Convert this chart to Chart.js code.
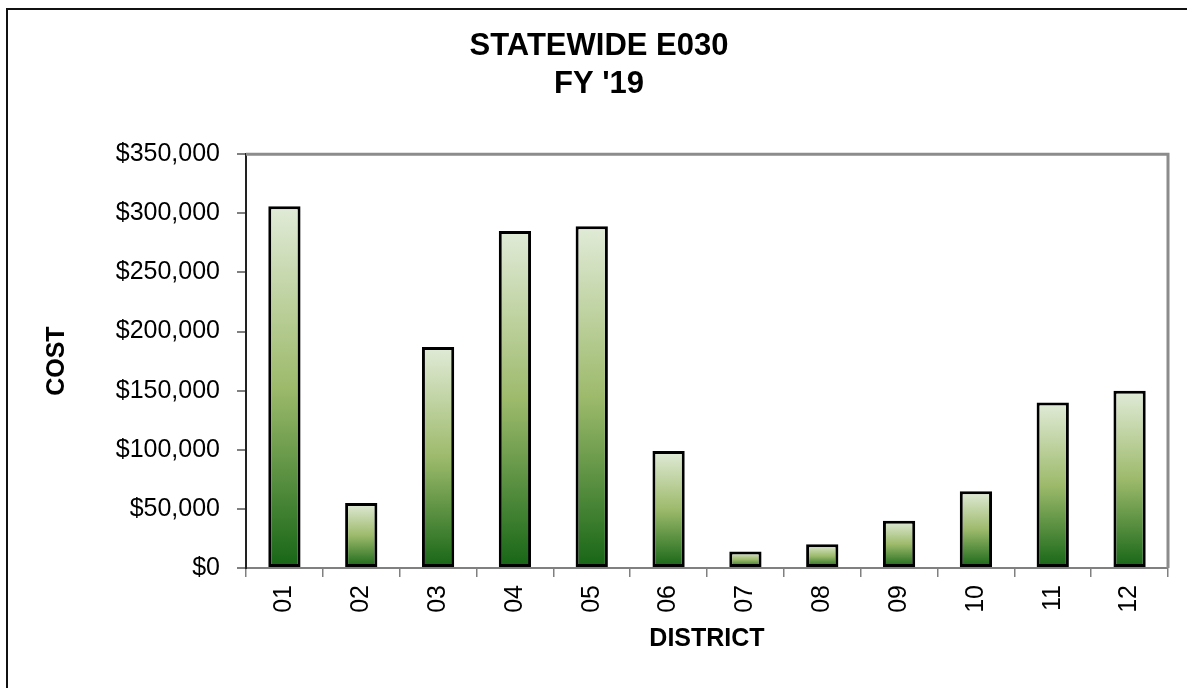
<!DOCTYPE html>
<html>
<head>
<meta charset="utf-8">
<title>Statewide E030 FY '19</title>
<script src="https://cdn.jsdelivr.net/npm/chart.js@4.4.1/dist/chart.umd.min.js"></script>
<style>
    html, body { margin: 0; padding: 0; background: #fff; overflow: hidden; }
    #frame {
        position: absolute;
        left: 6px;
        top: 8px;
        width: 1230px;
        height: 720px;
        border-left: 2px solid #111;
        border-top: 2px solid #111;
    }
    #chartWrap { position: absolute; left: 0; top: 0; width: 1179px; height: 678px; }
</style>
</head>
<body>
<div id="frame">
    <div id="chartWrap"><canvas id="costChart"></canvas></div>
</div>
<script>
// data
const districts = ['01', '02', '03', '04', '05', '06', '07', '08', '09', '10', '11', '12'];
const costs = [306000, 55000, 187000, 285000, 289000, 99000, 14000, 20000, 40000, 65000, 140000, 150000];
const yTicks = [0, 50000, 100000, 150000, 200000, 250000, 300000, 350000];

const fontFamily = '"Liberation Sans", Arial, sans-serif';

// gradient per bar, light at the top and dark green at the base
function barGradient(context) {
    const chart = context.chart;
    const yScale = chart.scales.y;
    if (!yScale || context.raw == null) return '#9dbb6b';
    const top = yScale.getPixelForValue(context.raw);
    const base = yScale.getPixelForValue(0);
    if (!isFinite(top) || !isFinite(base) || top === base) return '#9dbb6b';
    const g = chart.ctx.createLinearGradient(0, top, 0, base);
    g.addColorStop(0, '#e1ebd8');
    g.addColorStop(0.5, '#9dba6b');
    g.addColorStop(1, '#166516');
    return g;
}

// top and right edge of the plot area
const plotFrame = {
    id: 'plotFrame',
    afterDraw(chart) {
        const { ctx, chartArea } = chart;
        ctx.save();
        ctx.strokeStyle = '#8c8c8c';
        ctx.lineWidth = 3;
        ctx.beginPath();
        ctx.moveTo(chartArea.left, chartArea.top);
        ctx.lineTo(chartArea.right, chartArea.top);
        ctx.lineTo(chartArea.right, chartArea.bottom);
        ctx.stroke();
        ctx.restore();
    }
};

const ctx = document.getElementById('costChart').getContext('2d');
new Chart(ctx, {
    type: 'bar',
    data: {
        labels: districts,
        datasets: [{
            label: 'Cost',
            data: costs,
            backgroundColor: barGradient,
            borderColor: '#000',
            borderWidth: 3,
            borderSkipped: false,
            barPercentage: 0.42,
            categoryPercentage: 1
        }]
    },
    options: {
        responsive: true,
        maintainAspectRatio: false,
        animation: false,
        layout: { padding: { left: 22, right: 19, top: 0, bottom: 20 } },
        plugins: {
            legend: { display: false },
            tooltip: { enabled: false },
            title: {
                display: true,
                text: ['STATEWIDE E030', "FY '19"],
                color: '#000',
                font: { family: fontFamily, size: 31, weight: 'bold', lineHeight: 1.23 },
                padding: { top: 17, bottom: 51 }
            }
        },
        scales: {
            x: {
                offset: true,
                grid: {
                    offset: true,
                    drawOnChartArea: false,
                    drawTicks: true,
                    tickLength: 9,
                    color: '#808080',
                    lineWidth: 1.5
                },
                border: { display: true, color: '#808080', width: 2 },
                ticks: {
                    color: '#000',
                    font: { family: fontFamily, size: 25 },
                    maxRotation: 90,
                    minRotation: 90,
                    padding: 8,
                    autoSkip: false
                },
                title: {
                    display: true,
                    text: 'DISTRICT',
                    color: '#000',
                    font: { family: fontFamily, size: 25, weight: 'bold', lineHeight: 1.2 },
                    padding: { top: 4, bottom: 14 }
                },
                afterFit: scale => { scale.height = 100; }
            },
            y: {
                min: 0,
                max: 350000,
                afterBuildTicks: scale => { scale.ticks = yTicks.map(v => ({ value: v })); },
                grid: {
                    drawOnChartArea: false,
                    drawTicks: true,
                    tickLength: 9,
                    color: '#808080',
                    lineWidth: 2
                },
                border: { display: true, color: '#222', width: 2 },
                ticks: {
                    color: '#000',
                    font: { family: fontFamily, size: 25 },
                    padding: 17,
                    callback: value => '$' + value.toLocaleString('en-US')
                },
                title: {
                    display: true,
                    text: 'COST',
                    color: '#000',
                    font: { family: fontFamily, size: 25, weight: 'bold', lineHeight: 1.2 },
                    padding: { top: 12, bottom: 4 }
                },
                afterFit: scale => { scale.width = 216; }
            }
        }
    },
    plugins: [plotFrame]
});
</script>
</body>
</html>
